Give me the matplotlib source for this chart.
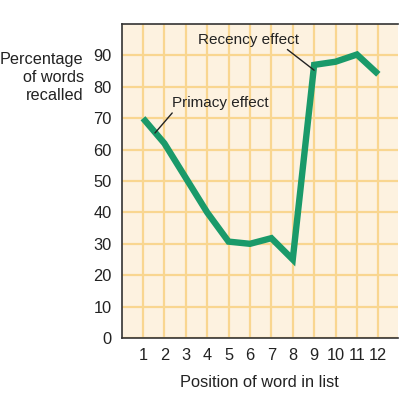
import matplotlib
matplotlib.use('Agg')
import matplotlib.pyplot as plt

# Serial position data
positions = [1, 2, 3, 4, 5, 6, 7, 8, 9, 10, 11, 12]
recalled = [70, 62, 51, 40, 30.7, 30, 31.8, 25, 87, 88, 90.3, 84]
y_ticks = [0, 10, 20, 30, 40, 50, 60, 70, 80, 90]

plt.rcParams['font.family'] = ['Liberation Sans', 'DejaVu Sans']

fig = plt.figure(figsize=(4, 4.08), dpi=100)
ax = fig.add_axes([0.304, 0.1716, 0.691, 0.7694])
ax.set_facecolor('#fdf2e0')

ax.plot(positions, recalled, color='#1a9a6a', linewidth=4.6,
        solid_joinstyle='miter', solid_capstyle='butt', zorder=3)

ax.set_xlim(0, 12.92)
ax.set_ylim(0, 100)
ax.set_xticks(positions)
ax.set_yticks(y_ticks)
ax.tick_params(length=0, labelsize=11.8, pad=7, colors='#222222')
ax.grid(True, color='#f9d690', linewidth=1.6, zorder=1)
ax.set_axisbelow(True)

for side in ['left', 'bottom', 'top']:
    ax.spines[side].set_color('#333333')
    ax.spines[side].set_linewidth(1.2)
ax.spines['right'].set_visible(False)

ax.set_xlabel('Position of word in list', fontsize=11.8, labelpad=9, color='#222222')
ax.text(-0.137, 0.83, 'Percentage\nof words\nrecalled', transform=ax.transAxes,
        ha='right', va='center', multialignment='right', fontsize=11.7,
        linespacing=1.25, color='#222222')

# Annotations
ax.annotate('Primacy effect', xy=(1.56, 65.3), xytext=(4.6, 74.8),
            ha='center', va='center', fontsize=11, color='#222222',
            arrowprops=dict(arrowstyle='-', color='#222222', lw=1,
                            shrinkA=0, shrinkB=0,
                            relpos=(0.03, 0.0)))
ax.annotate('Recency effect', xy=(9.0, 85.3), xytext=(5.93, 95),
            ha='center', va='center', fontsize=11, color='#222222',
            arrowprops=dict(arrowstyle='-', color='#222222', lw=1,
                            shrinkA=0, shrinkB=0,
                            relpos=(0.85, 0.0)))

fig.savefig('out.png', dpi=100)
